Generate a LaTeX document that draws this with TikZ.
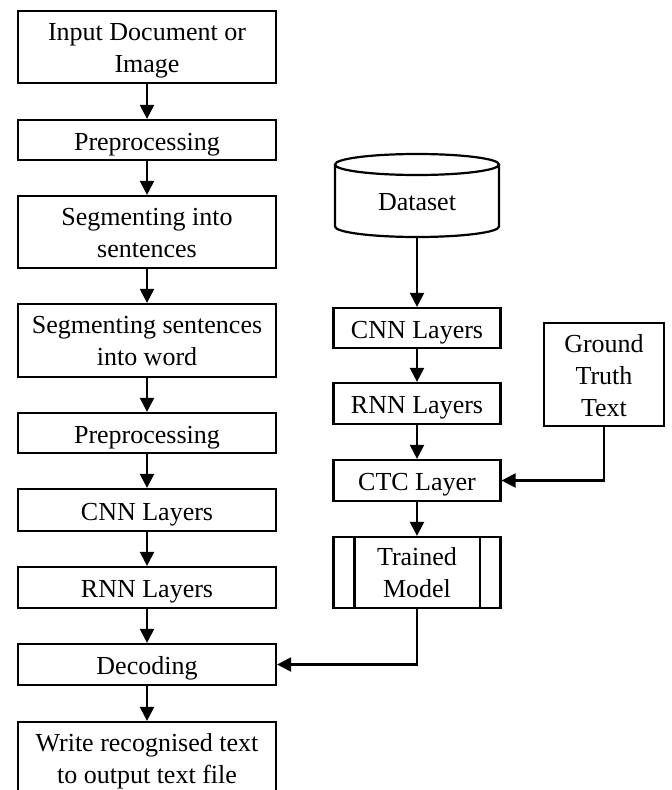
\documentclass[tikz,border=0pt]{standalone}
\usepackage{fontspec}
\setmainfont{Liberation Serif}
\usepackage{tikz}
\usetikzlibrary{arrows.meta}
\tikzset{
  box/.style={draw=black, line width=2.2pt, align=center, inner sep=0pt,
    font=\fontsize{26}{32}\selectfont},
  one/.style={text height=20pt, text depth=0pt},
  two/.style={text height=50pt, text depth=0pt},
  lbox/.style={box, minimum width=258pt},
  rbox/.style={box, minimum width=167pt},
  flow/.style={draw=black, line width=2.2pt, -{Triangle[width=14pt,length=14pt]}},
  edge/.style={draw=black, line width=2.2pt},
}
\begin{document}
\begin{tikzpicture}[x=1pt,y=-1pt]
  \useasboundingbox (0,0) rectangle (672,790);
  % left column
  \node[lbox,two,minimum height=72pt] (inp) at (147,47) {Input Document or\\Image};
  \node[lbox,one,minimum height=40pt] (pre1) at (147,140) {Preprocessing};
  \node[lbox,two,minimum height=72pt] (segs) at (147,232) {Segmenting into\\sentences};
  \node[lbox,two,minimum height=73pt] (segw) at (147,340.5) {Segmenting sentences\\into word};
  \node[lbox,one,minimum height=40pt] (pre2) at (147,433) {Preprocessing};
  \node[lbox,one,minimum height=42pt] (cnnL) at (147,510) {CNN Layers};
  \node[lbox,one,minimum height=41pt] (rnnL) at (147,587.5) {RNN Layers};
  \node[lbox,one,minimum height=41pt] (dec) at (147,664.5) {Decoding};
  \node[lbox,two,minimum height=72pt] (out) at (147,758) {Write recognised text\\to output text file};
  % right column
  \draw[edge] (335,164.5) arc (180:-180:82 and 10.5)
    -- (335,226.5) arc (180:0:82 and 10.5) -- (499,164.5);
  \node[box,draw=none,one] (data) at (417,200) {Dataset};
  \coordinate (dbot) at (417,237);
  \node[rbox,one,minimum height=40pt] (cnnR) at (417,328) {CNN Layers};
  \node[rbox,one,minimum height=41pt] (rnnR) at (417,403.5) {RNN Layers};
  \node[rbox,one,minimum height=41pt] (ctc) at (417,480.5) {CTC Layer};
  \node[rbox,two,minimum height=71pt] (model) at (417,572.5) {Trained\\Model};
  \draw[edge] ([xshift=22pt]model.north west) -- ([xshift=22pt]model.south west);
  \draw[edge] ([xshift=-22pt]model.north east) -- ([xshift=-22pt]model.south east);
  \node[box,text height=83pt,text depth=0pt,minimum width=120pt,minimum height=103pt] (gt) at (604,374.5) {Ground\\Truth\\Text};
  % connectors
  \draw[flow] (inp) -- (pre1);
  \draw[flow] (pre1) -- (segs);
  \draw[flow] (segs) -- (segw);
  \draw[flow] (segw) -- (pre2);
  \draw[flow] (pre2) -- (cnnL);
  \draw[flow] (cnnL) -- (rnnL);
  \draw[flow] (rnnL) -- (dec);
  \draw[flow] (dec) -- (out);
  \draw[flow] (dbot) -- (cnnR);
  \draw[flow] (cnnR) -- (rnnR);
  \draw[flow] (rnnR) -- (ctc);
  \draw[flow] (ctc) -- (model);
  \draw[flow] (gt.south) |- (ctc.east);
  \draw[flow] (model.south) |- (dec.east);
\end{tikzpicture}
\end{document}
